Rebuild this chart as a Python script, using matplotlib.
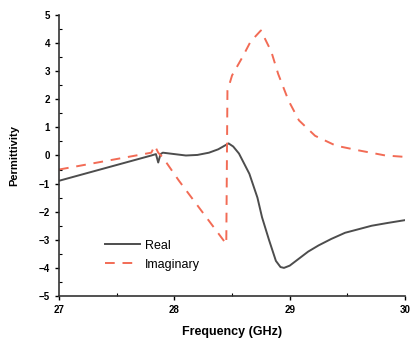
import numpy as np
import matplotlib.pyplot as plt
from matplotlib.ticker import MultipleLocator

plt.rcParams['font.family'] = ['Liberation Sans', 'DejaVu Sans']

# values
freq_real = [27.0, 27.4, 27.8, 27.84, 27.86, 27.88, 27.9, 28.0, 28.1, 28.2, 28.3, 28.38,
             28.44, 28.47, 28.51, 28.56, 28.6, 28.65, 28.72, 28.76, 28.82, 28.88, 28.92,
             28.95, 29.0, 29.08, 29.16, 29.25, 29.36, 29.48, 29.6, 29.71, 29.85, 30.0]
eps_real = [-0.9, -0.45, 0.0, 0.05, -0.25, 0.05, 0.1, 0.05, 0.0, 0.02, 0.1, 0.22,
            0.36, 0.43, 0.32, 0.07, -0.25, -0.65, -1.5, -2.2, -3.0, -3.75, -3.97,
            -4.0, -3.92, -3.67, -3.42, -3.2, -2.97, -2.75, -2.62, -2.5, -2.4, -2.3]

freq_imag = [27.0, 27.8, 27.83, 27.86, 27.9, 28.04, 28.45, 28.46, 28.5, 28.59, 28.66,
             28.75, 28.84, 28.9, 28.99, 29.08, 29.22, 29.4, 29.6, 29.83, 30.0]
eps_imag = [-0.5, 0.1, 0.35, 0.1, -0.07, -0.9, -3.15, 2.3, 2.85, 3.5, 4.05,
            4.45, 3.7, 2.9, 1.95, 1.25, 0.7, 0.35, 0.18, 0.0, -0.05]

fig = plt.figure(figsize=(4.11, 3.41), dpi=100)
ax = fig.add_axes([0.1436, 0.132, 0.842, 0.824])

ax.plot(freq_real, eps_real, color='#4d4d4d', lw=1.4, label='Real')
ax.plot(freq_imag, eps_imag, color='#f26b55', lw=1.4, ls=(0, (5, 4)), label='Imaginary')

ax.set_xlim(27, 30)
ax.set_ylim(-5, 5)
ax.xaxis.set_major_locator(MultipleLocator(1))
ax.xaxis.set_minor_locator(MultipleLocator(0.5))
ax.yaxis.set_major_locator(MultipleLocator(1))
ax.yaxis.set_minor_locator(MultipleLocator(0.5))
ax.tick_params(which='major', direction='out', length=3, width=1, labelsize=7)
ax.tick_params(which='minor', direction='in', length=2, width=0.8)
for lab in ax.get_xticklabels() + ax.get_yticklabels():
    lab.set_fontweight('bold')

for s in ['top', 'right']:
    ax.spines[s].set_visible(False)
for s in ['left', 'bottom']:
    ax.spines[s].set_linewidth(1.2)
    ax.spines[s].set_color('#333333')

ax.set_xlabel('Frequency (GHz)', fontsize=9, fontweight='bold', labelpad=8)
ax.set_ylabel('Permittivity', fontsize=8, fontweight='bold', labelpad=14)

ax.legend(loc='lower left', bbox_to_anchor=(0.1, 0.05), frameon=False, fontsize=9,
          handlelength=2.8, labelspacing=0.55, handletextpad=0.4)

fig.savefig('out.png', dpi=100)
